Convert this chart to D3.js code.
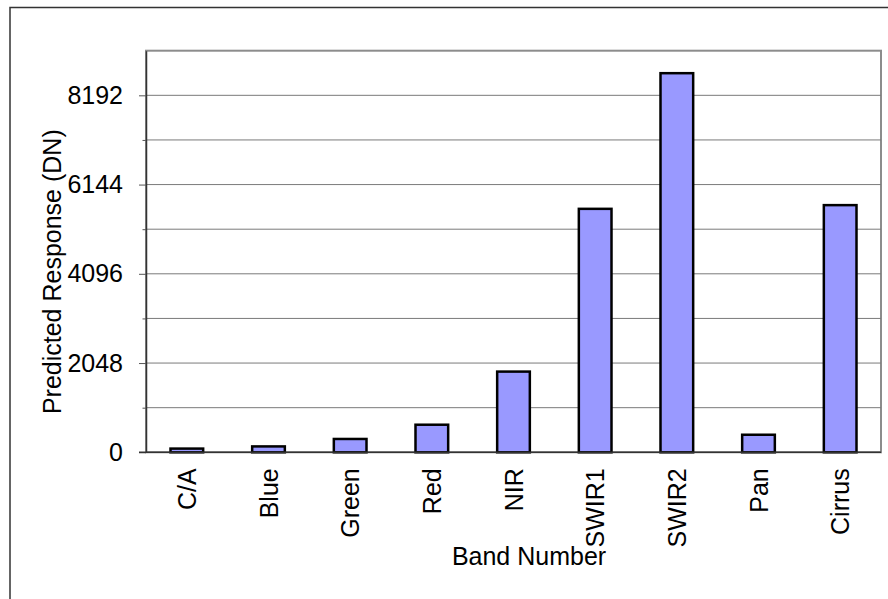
<!DOCTYPE html>
<html>
<head>
<meta charset="utf-8">
<script src="https://cdn.jsdelivr.net/npm/d3@7"></script>
<style>
  body { margin: 0; background: #fff; }
  svg { display: block; font-family: "Liberation Sans", Arial, sans-serif; }
</style>
</head>
<body>
<div id="chart-container"></div>
<script>
// data
const bands = ["C/A", "Blue", "Green", "Red", "NIR", "SWIR1", "SWIR2", "Pan", "Cirrus"];
const response = [85, 135, 306, 633, 1852, 5587, 8700, 403, 5672];
const majorTicks = [0, 2048, 4096, 6144, 8192];
const minorTicks = [1024, 3072, 5120, 7168];
const yMax = 9216;

const W = 888, H = 599;
const plot = { left: 146, top: 50.7, right: 881, bottom: 452.3 };
const fontSize = 25;

const svg = d3
  .select("#chart-container")
  .append("svg")
  .attr("width", W)
  .attr("height", H);

// outer chart border (runs off the right/bottom of the picture)
svg
  .append("rect")
  .attr("x", 10)
  .attr("y", 7.5)
  .attr("width", 1040)
  .attr("height", 640)
  .attr("fill", "#fff")
  .attr("stroke", "#333")
  .attr("stroke-width", 1.5);

const x = d3
  .scaleBand()
  .domain(bands)
  .range([plot.left, plot.right])
  .paddingInner(0.6)
  .paddingOuter(0.3);

const y = d3.scaleLinear().domain([0, yMax]).range([plot.bottom, plot.top]);

// plot area border (top/right in gray)
svg
  .append("rect")
  .attr("x", plot.left)
  .attr("y", plot.top)
  .attr("width", plot.right - plot.left)
  .attr("height", plot.bottom - plot.top)
  .attr("fill", "none")
  .attr("stroke", "#8c8c8c")
  .attr("stroke-width", 2);

// gridlines
svg
  .append("g")
  .selectAll("line")
  .data(majorTicks.concat(minorTicks).filter((d) => d > 0))
  .enter()
  .append("line")
  .attr("x1", plot.left)
  .attr("x2", plot.right)
  .attr("y1", (d) => y(d))
  .attr("y2", (d) => y(d))
  .attr("stroke", "#7a7a7a")
  .attr("stroke-width", 1);

// bars
svg
  .append("g")
  .selectAll("rect")
  .data(bands)
  .enter()
  .append("rect")
  .attr("x", (d) => x(d))
  .attr("y", (d, i) => y(response[i]))
  .attr("width", x.bandwidth())
  .attr("height", (d, i) => y(0) - y(response[i]))
  .attr("fill", "#9999ff")
  .attr("stroke", "#000")
  .attr("stroke-width", 2.5);

// y axis: labelled ticks + short minor ticks
const yAxis = svg
  .append("g")
  .attr("transform", `translate(${plot.left},0)`)
  .call(
    d3
      .axisLeft(y)
      .tickValues(majorTicks)
      .tickFormat(d3.format("d"))
      .tickSize(7)
      .tickSizeOuter(0)
      .tickPadding(16)
  );
yAxis.select(".domain").attr("stroke", "#333").attr("stroke-width", 1.5);
yAxis.selectAll(".tick line").attr("stroke", "#555");
yAxis
  .selectAll(".tick text")
  .attr("font-size", fontSize)
  .attr("font-family", "Liberation Sans, Arial, sans-serif")
  .attr("fill", "#000");

svg
  .append("g")
  .attr("transform", `translate(${plot.left},0)`)
  .call(d3.axisLeft(y).tickValues(minorTicks).tickSize(3.5).tickFormat(""))
  .call((g) => g.select(".domain").remove())
  .selectAll(".tick line")
  .attr("stroke", "#555");

// x axis line
svg
  .append("line")
  .attr("x1", plot.left - 7)
  .attr("x2", plot.right)
  .attr("y1", plot.bottom)
  .attr("y2", plot.bottom)
  .attr("stroke", "#333")
  .attr("stroke-width", 1.5);

// category labels, rotated
svg
  .append("g")
  .selectAll("text")
  .data(bands)
  .enter()
  .append("text")
  .attr("transform", (d) => `translate(${x(d) + x.bandwidth() / 2},${plot.bottom + 16}) rotate(-90)`)
  .attr("text-anchor", "end")
  .attr("dy", "0.36em")
  .attr("font-size", fontSize)
  .text((d) => d);

// axis titles
svg
  .append("text")
  .attr("x", 529)
  .attr("y", 565)
  .attr("text-anchor", "middle")
  .attr("font-size", fontSize)
  .text("Band Number");

svg
  .append("text")
  .attr("transform", "translate(61,271.7) rotate(-90)")
  .attr("text-anchor", "middle")
  .attr("font-size", fontSize)
  .text("Predicted Response (DN)");
</script>
</body>
</html>
